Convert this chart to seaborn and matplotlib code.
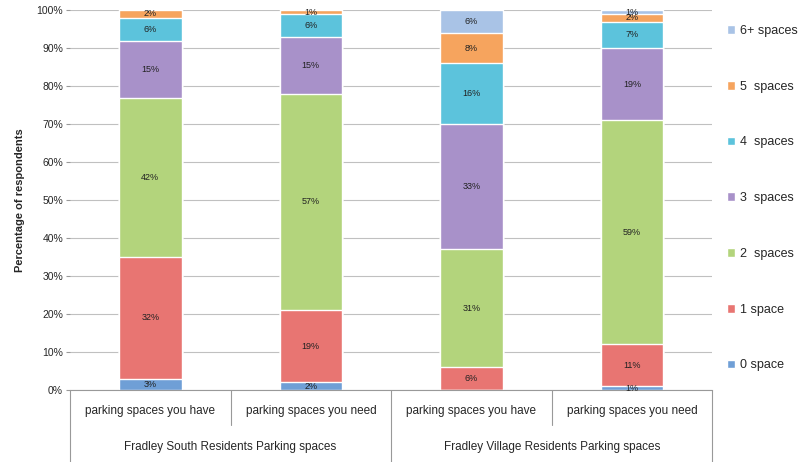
import matplotlib
matplotlib.use('Agg')
import matplotlib.pyplot as plt
import seaborn as sns
import numpy as np

# 데이터
bars = ['parking spaces you have', 'parking spaces you need',
        'parking spaces you have ', 'parking spaces you need ']
groups = ['Fradley South Residents Parking spaces', 'Fradley Village Residents Parking spaces']
layers = ['0 space', '1 space', '2  spaces', '3  spaces', '4  spaces', '5  spaces', '6+ spaces']
space0 = [3, 2, 0, 1]
space1 = [32, 19, 6, 11]
space2 = [42, 57, 31, 59]
space3 = [15, 15, 33, 19]
space4 = [6, 6, 16, 7]
space5 = [2, 1, 8, 2]
space6 = [0, 0, 6, 1]
colors = ['#6f9fd6', '#e87572', '#b3d47c', '#a891c9', '#5cc3dc', '#f6a45e', '#a9c3e6']

sns.set_style('white')
plt.rcParams['font.family'] = ['Liberation Sans', 'DejaVu Sans']

vals = np.array([space0, space1, space2, space3, space4, space5, space6], dtype=float)
cum = vals.cumsum(axis=0)

fig = plt.figure(figsize=(8.04, 4.62), dpi=100)
ax = fig.add_axes([0.087, 0.156, 0.799, 0.822])

# 누적 막대: 위층부터 그리기
for i in range(len(layers) - 1, -1, -1):
    sns.barplot(x=bars, y=cum[i], color=colors[i], width=0.39, ax=ax, saturation=1,
                edgecolor='white', linewidth=1, label=layers[i], order=bars)

# 막대 안의 값 표시
for j in range(len(bars)):
    for i in range(len(layers)):
        v = vals[i, j]
        if v <= 0:
            continue
        ax.text(j, cum[i, j] - v / 2, f'{int(v)}%', ha='center', va='center',
                fontsize=6.5, color='#222222')

ax.set_ylim(0, 100)
ax.set_xlim(-0.5, 3.5)
ax.set_yticks(range(0, 101, 10))
ax.set_yticklabels([f'{t}%' for t in range(0, 101, 10)], fontsize=7.5)
ax.yaxis.grid(True, color='#c0c0c0', linewidth=0.8)
ax.set_axisbelow(True)
ax.tick_params(axis='y', length=3, color='#999999', pad=2, left=True)
ax.set_ylabel('Percentage of respondents', fontsize=8, fontweight='bold', labelpad=8)
ax.set_xlabel('')
ax.set_xticks([])
for s in ['left', 'right', 'top']:
    ax.spines[s].set_visible(False)
ax.spines['bottom'].set_color('#999999')

# x축 라벨과 구분선
for j, b in enumerate(bars):
    ax.text(j, -0.055, b.strip(), transform=ax.get_xaxis_transform(),
            ha='center', va='center', fontsize=8.5)
for k, g in enumerate(groups):
    ax.text(2 * k + 0.5, -0.15, g, transform=ax.get_xaxis_transform(),
            ha='center', va='center', fontsize=8.5)
for x in [0.5, 2.5]:
    ax.plot([x, x], [0, -0.092], transform=ax.get_xaxis_transform(),
            color='#999999', lw=0.8, clip_on=False)
for x in [-0.5, 1.5, 3.5]:
    ax.plot([x, x], [0, -0.19], transform=ax.get_xaxis_transform(),
            color='#999999', lw=0.8, clip_on=False)

# 범례
h, l = ax.get_legend_handles_labels()
ax.get_legend().remove()
fig.legend(h, l, loc='upper left', bbox_to_anchor=(0.893, 0.965), frameon=False,
           fontsize=9, handlelength=0.7, handleheight=0.7, handletextpad=0.4,
           labelspacing=3.5, borderpad=0.2)

fig.savefig('out.png', dpi=100)
